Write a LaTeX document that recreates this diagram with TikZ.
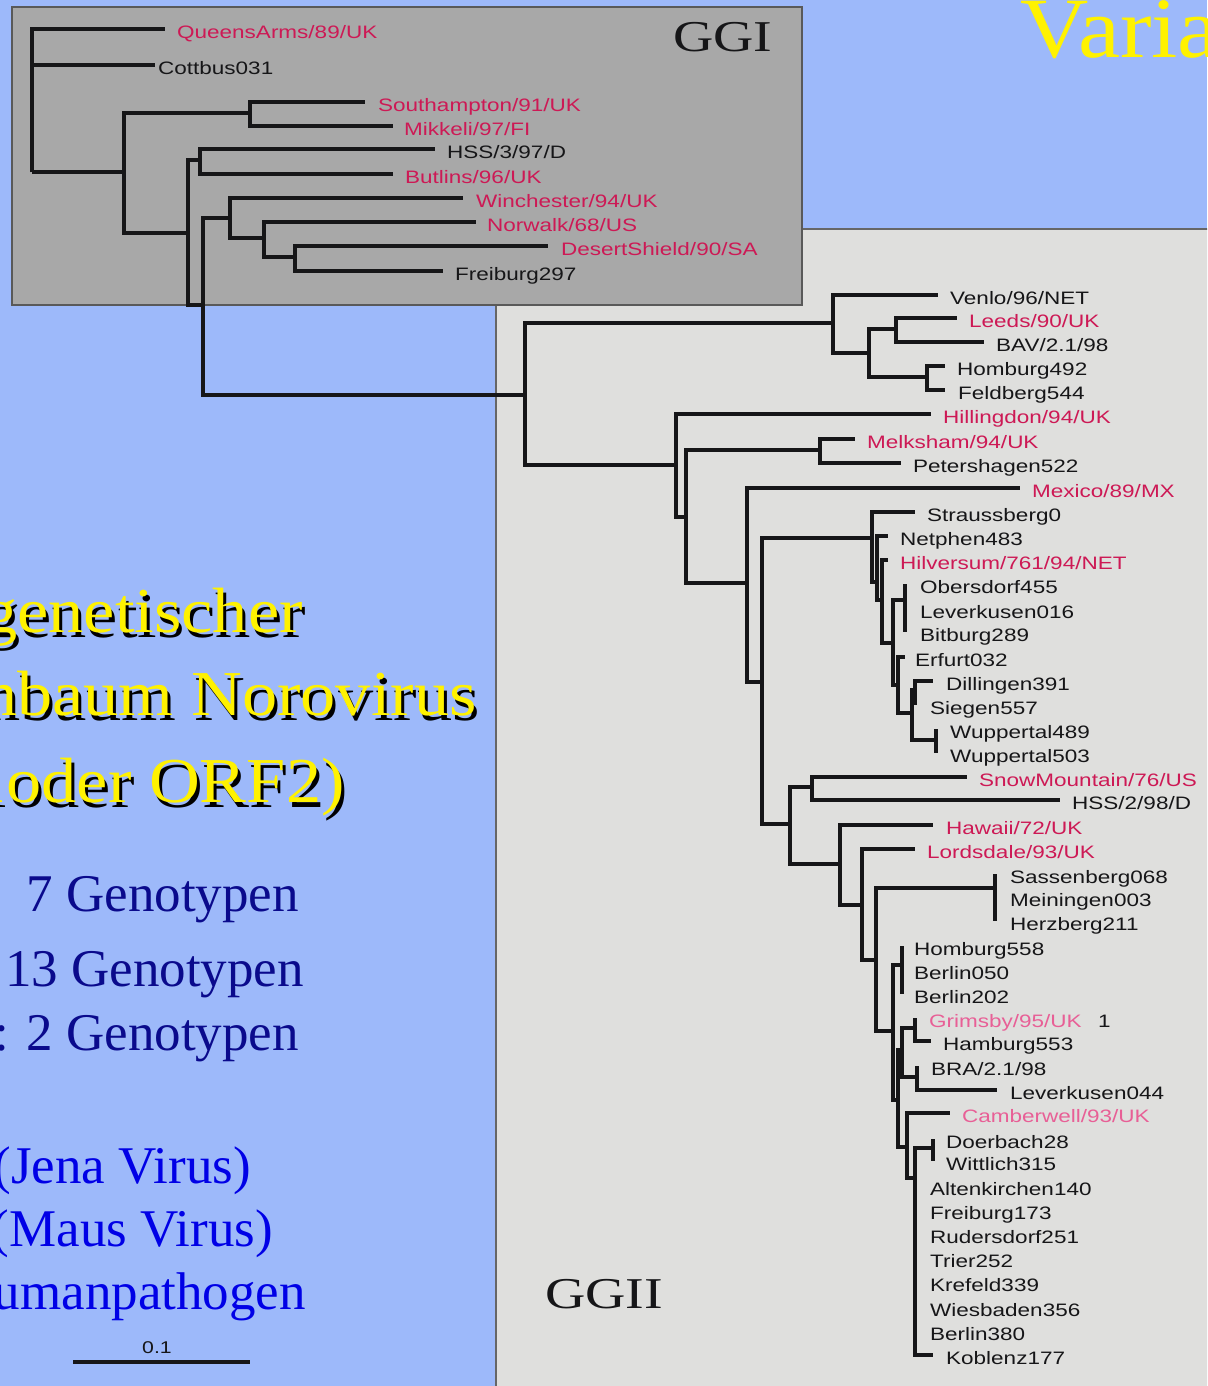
\documentclass[tikz,border=0pt]{standalone}
\usepackage{fontspec}
\setmainfont{Liberation Serif}
\newfontfamily\labfont[FakeStretch=1.25]{Liberation Sans}
\newfontfamily\headfont[FakeStretch=1.1]{Liberation Serif}
\newfontfamily\groupfont[FakeStretch=1.27]{Liberation Serif}

\definecolor{skyblue}{RGB}{157,185,250}
\definecolor{boxgray}{RGB}{168,168,168}
\definecolor{panelgray}{RGB}{223,223,221}
\definecolor{strainred}{RGB}{205,25,85}
\definecolor{strainpink}{RGB}{232,95,150}
\definecolor{ink}{RGB}{22,22,24}
\definecolor{navy}{RGB}{10,10,140}
\definecolor{brightblue}{RGB}{0,0,230}

\tikzset{
  branch/.style={draw=ink, line width=4.3pt},
  leaflab/.style={anchor=base west, inner sep=0pt, font=\labfont\fontsize{18}{20}\selectfont},
  grouplab/.style={anchor=base west, inner sep=0pt, text=ink, font=\groupfont\fontsize{44}{48}\selectfont},
  bigline/.style={anchor=base east, inner sep=0pt, font=\headfont\fontsize{64}{70}\selectfont},
  bluelab/.style={anchor=base east, inner sep=0pt, font=\fontsize{53}{58}\selectfont}
}

% parent, name, x, y, label x, colour, text
\newcommand{\strain}[7]{%
  \coordinate (#2) at (#3,#4);
  \draw[branch] (#1) |- (#2);
  \node[leaflab, text=#6] (#2-lab) at (#5,#4+9.5) {#7};}

\begin{document}
\begin{tikzpicture}[x=1pt,y=-1pt]
\useasboundingbox (0,0) rectangle (1207,1386);
\clip (0,0) rectangle (1207,1386);
\fill[skyblue] (0,0) rectangle (1207,1386);
\draw[fill=panelgray, draw=black!60, line width=1.2pt] (496,229) rectangle (1220,1400);
\draw[fill=boxgray, draw=black!65, line width=1.2pt] (12,7) rectangle (802,305);

% inner nodes
\coordinate (g1) at (32,172);
\coordinate (g2) at (124,172);
\coordinate (g3) at (250,113);
\coordinate (g4) at (188,233);
\coordinate (g5) at (200,160);
\coordinate (g6) at (203,305);
\coordinate (g7) at (230,218);
\coordinate (g8) at (264,238);
\coordinate (g9) at (295,257);
\coordinate (root) at (525,395);
\coordinate (a1) at (833,323);
\coordinate (a2) at (869,353);
\coordinate (a3) at (896,329);
\coordinate (a4) at (927,377);
\coordinate (b1) at (676,465);
\coordinate (b2) at (686,517);
\coordinate (b3) at (820,450);
\coordinate (b4) at (747,583);
\coordinate (b5) at (762,682);
\coordinate (c1) at (872,538);
\coordinate (c2) at (877,582);
\coordinate (c3) at (882,600);
\coordinate (c4) at (893,643);
\coordinate (c5) at (905,600);
\coordinate (c6) at (898,685);
\coordinate (c7) at (912,713);
\coordinate (c8) at (915,690);
\coordinate (c9) at (936,740);
\coordinate (d1) at (790,824);
\coordinate (d2) at (812,787);
\coordinate (d3) at (840,864);
\coordinate (d4) at (862,905);
\coordinate (d5) at (876,960);
\coordinate (d6) at (893,1031);
\coordinate (e1) at (995,888);
\coordinate (e2) at (902,965);
\coordinate (e3) at (902,1050);
\coordinate (e4) at (915,1028);
\coordinate (e5) at (917,1077);
\coordinate (e6) at (898,1100);
\coordinate (e7) at (907,1147);
\coordinate (e8) at (915,1178);
\coordinate (e9) at (933,1148);

\foreach \p/\c in {g1/g2, g2/g3, g2/g4, g4/g5, g4/g6, g6/g7, g6/root, g7/g8, g8/g9,
    root/a1, a1/a2, a2/a3, a2/a4, root/b1, b1/b2, b2/b3, b2/b4, b4/b5,
    b5/c1, c1/c2, c2/c3, c3/c4, c4/c5, c4/c6, c6/c7, c7/c8, c7/c9,
    b5/d1, d1/d2, d1/d3, d3/d4, d4/d5, d5/e1, d5/d6, d6/e2, d6/e6,
    e6/e3, e3/e4, e3/e5, e6/e7, e7/e8, e8/e9}
  \draw[branch] (\p) |- (\c);

% GGI
\strain{g1}{qa}{165}{29}{177}{strainred}{QueensArms/89/UK}
\strain{g1}{cot}{155}{65}{158}{ink}{Cottbus031}
\strain{g3}{sou}{365}{102}{378}{strainred}{Southampton/91/UK}
\strain{g3}{mik}{393}{126}{404}{strainred}{Mikkeli/97/FI}
\strain{g5}{hssa}{435}{149}{447}{ink}{HSS/3/97/D}
\strain{g5}{but}{393}{174}{405}{strainred}{Butlins/96/UK}
\strain{g7}{win}{463}{198}{476}{strainred}{Winchester/94/UK}
\strain{g8}{nor}{476}{222}{487}{strainred}{Norwalk/68/US}
\strain{g9}{des}{548}{246}{561}{strainred}{DesertShield/90/SA}
\strain{g9}{frea}{443}{271}{455}{ink}{Freiburg297}

% GGII
\strain{a1}{ven}{938}{295}{950}{ink}{Venlo/96/NET}
\strain{a3}{lee}{957}{318}{969}{strainred}{Leeds/90/UK}
\strain{a3}{bav}{984}{342}{996}{ink}{BAV/2.1/98}
\strain{a4}{homa}{945}{366}{957}{ink}{Homburg492}
\strain{a4}{fel}{945}{390}{958}{ink}{Feldberg544}
\strain{b1}{hil}{931}{414}{943}{strainred}{Hillingdon/94/UK}
\strain{b3}{mel}{855}{439}{867}{strainred}{Melksham/94/UK}
\strain{b3}{pet}{901}{463}{913}{ink}{Petershagen522}
\strain{b4}{mex}{1020}{488}{1032}{strainred}{Mexico/89/MX}
\strain{c1}{str}{915}{512}{927}{ink}{Straussberg0}
\strain{c2}{net}{888}{536}{900}{ink}{Netphen483}
\strain{c3}{hilv}{888}{560}{900}{strainred}{Hilversum/761/94/NET}
\strain{c5}{obe}{905}{584}{920}{ink}{Obersdorf455}
\strain{c5}{leva}{905}{609}{920}{ink}{Leverkusen016}
\strain{c5}{bit}{905}{632}{920}{ink}{Bitburg289}
\strain{c6}{erf}{905}{657}{915}{ink}{Erfurt032}
\strain{c8}{dil}{933}{681}{946}{ink}{Dillingen391}
\strain{c8}{sie}{915}{705}{930}{ink}{Siegen557}
\strain{c9}{wupa}{936}{729}{950}{ink}{Wuppertal489}
\strain{c9}{wupb}{936}{753}{950}{ink}{Wuppertal503}
\strain{d2}{snow}{967}{777}{979}{strainred}{SnowMountain/76/US}
\strain{d2}{hssb}{1060}{800}{1072}{ink}{HSS/2/98/D}
\strain{d3}{haw}{933}{825}{946}{strainred}{Hawaii/72/UK}
\strain{d4}{lor}{915}{849}{927}{strainred}{Lordsdale/93/UK}
\strain{e1}{sas}{995}{874}{1010}{ink}{Sassenberg068}
\strain{e1}{mei}{995}{897}{1010}{ink}{Meiningen003}
\strain{e1}{her}{995}{921}{1010}{ink}{Herzberg211}
\strain{e2}{homb}{902}{946}{914}{ink}{Homburg558}
\strain{e2}{bera}{902}{970}{914}{ink}{Berlin050}
\strain{e2}{berb}{902}{994}{914}{ink}{Berlin202}
\strain{e4}{gri}{915}{1018}{929}{strainpink}{Grimsby/95/UK}
\strain{e4}{ham}{931}{1041}{943}{ink}{Hamburg553}
\strain{e5}{bra}{917}{1066}{931}{ink}{BRA/2.1/98}
\strain{e5}{levb}{997}{1090}{1010}{ink}{Leverkusen044}
\strain{e7}{cam}{950}{1113}{962}{strainpink}{Camberwell/93/UK}
\strain{e9}{doe}{933}{1139}{946}{ink}{Doerbach28}
\strain{e9}{wit}{933}{1161}{946}{ink}{Wittlich315}
\strain{e8}{alt}{915}{1186}{930}{ink}{Altenkirchen140}
\strain{e8}{freb}{915}{1210}{930}{ink}{Freiburg173}
\strain{e8}{rud}{915}{1234}{930}{ink}{Rudersdorf251}
\strain{e8}{tri}{915}{1258}{930}{ink}{Trier252}
\strain{e8}{kre}{915}{1282}{930}{ink}{Krefeld339}
\strain{e8}{wie}{915}{1307}{930}{ink}{Wiesbaden356}
\strain{e8}{berc}{915}{1331}{930}{ink}{Berlin380}
\strain{e8}{kob}{933}{1355}{946}{ink}{Koblenz177}
\node[leaflab, text=ink] (gri-mark) at (1098,1027.5) {1};

\node[grouplab] (ggi) at (673,52) {GGI};
\node[grouplab] (ggii) at (545,1308) {GGII};

% titles
\node[anchor=base west, inner sep=0pt, text=yellow, font=\headfont\fontsize{86}{90}\selectfont] (varia) at (1020,58) {Varia};
\node[bigline, text=black] (lineas) at (306,637) {genetischer};
\node[bigline, text=yellow] (linea) at (303,632) {genetischer};
\node[bigline, text=black] (linebs) at (480,720) {nbaum Norovirus};
\node[bigline, text=yellow] (lineb) at (477,715) {nbaum Norovirus};
\node[bigline, text=black] (linecs) at (348,807) {1oder ORF2)};
\node[bigline, text=yellow] (linec) at (345,802) {1oder ORF2)};

\node[bluelab, text=navy] (geno7) at (299,911) {7 Genotypen};
\node[bluelab, text=navy] (geno13) at (304,986) {13 Genotypen};
\node[bluelab, text=navy] (geno2) at (299,1050) {: 2 Genotypen};
\node[bluelab, text=brightblue] (jena) at (251,1183) {(Jena Virus)};
\node[bluelab, text=brightblue] (maus) at (273,1246) {(Maus Virus)};
\node[bluelab, text=brightblue] (human) at (306,1309) {umanpathogen};

% scale bar
\coordinate (sbl) at (73,1362);
\coordinate (sbr) at (250,1362);
\draw[ink, line width=3.5pt] (sbl) -- (sbr);
\node[font=\labfont\fontsize{17}{19}\selectfont, text=ink, inner sep=0pt] (sblab) at (157,1348) {0.1};
\end{tikzpicture}
\end{document}
